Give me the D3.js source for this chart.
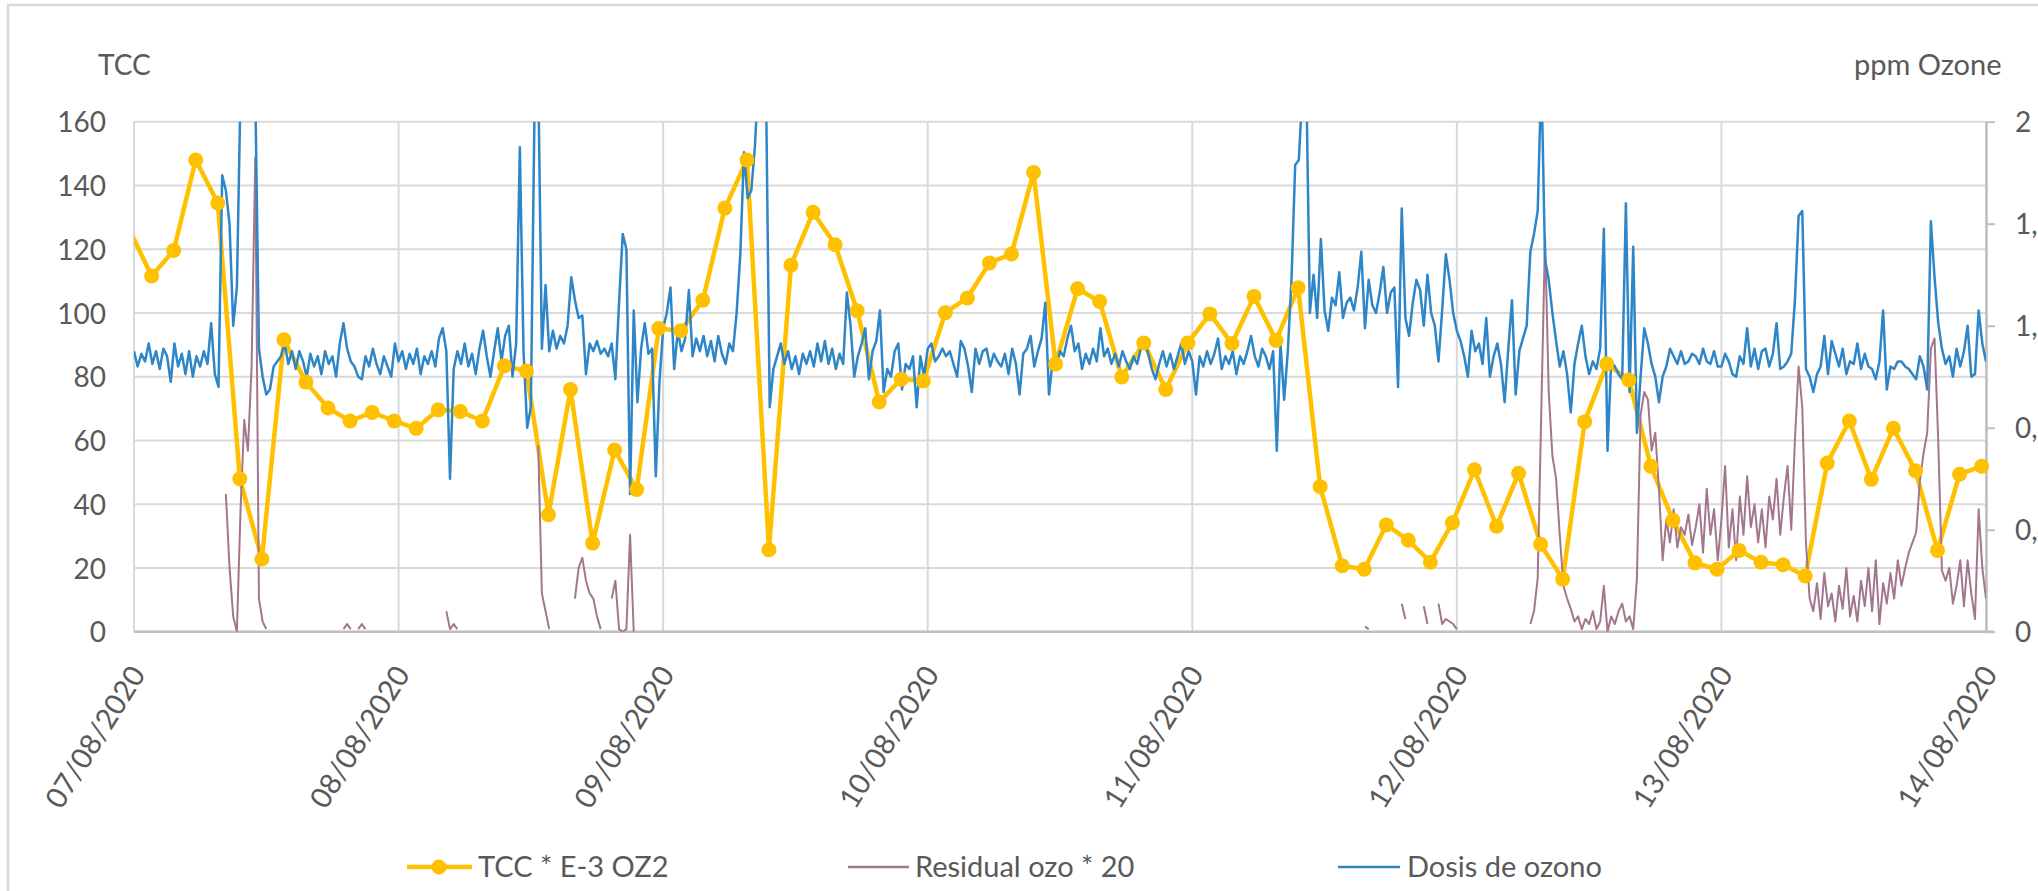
<!DOCTYPE html>
<html><head><meta charset="utf-8">
<script src="https://cdn.jsdelivr.net/npm/d3@7"></script>
<style>html,body{margin:0;padding:0;background:#fff;overflow:hidden}</style>
</head><body>
<svg id="chart" width="2038" height="891"></svg>
<script>
// ---------------- DATA ----------------
const leftTicks = [0, 20, 40, 60, 80, 100, 120, 140, 160];
const rightTicks = [0, 0.4, 0.8, 1.2, 1.6, 2];
const rightTickLabels = ["0", "0,4", "0,8", "1,2", "1,6", "2"];
const dayTicks = ["2020-08-07T00:00","2020-08-08T00:00","2020-08-09T00:00","2020-08-10T00:00",
                  "2020-08-11T00:00","2020-08-12T00:00","2020-08-13T00:00","2020-08-14T00:00"];
const dayLabels = ["07/08/2020","08/08/2020","09/08/2020","10/08/2020",
                   "11/08/2020","12/08/2020","13/08/2020","14/08/2020"];
const seriesNames = ["TCC * E-3 OZ2", "Residual ozo * 20", "Dosis de ozono"];

// TCC * E-3 OZ2 : one sample every 2 h, first sample 06/08 23:36
const tccStart = "2020-08-06T23:36";
const tccStepMinutes = 120;
const tccValues = [126,111.6,119.6,148,134.5,48,22.8,91.6,78.3,70.2,
  66.1,68.8,66.1,63.8,69.6,69.1,66.1,83.4,81.8,36.7,
  76,27.8,57,44.6,95.1,94.4,104,132.9,148,25.7,
  115,131.6,121.4,100.7,72.1,79.2,78.7,100.1,104.7,115.7,
  118.5,144.1,84,107.6,103.6,79.9,90.6,76,90.6,99.7,
  90.4,105.2,91.4,107.9,45.5,20.7,19.6,33.5,28.7,21.8,
  34.2,50.8,33.1,49.7,27.4,16.5,65.9,84,79,51.9,
  35,21.6,19.6,25.5,21.8,21,17.5,52.9,66.1,47.8,
  63.8,50.5,25.5,49.4,51.9];

// Dosis de ozono (ppm), one sample every 20 min, per day
const dosisStepMinutes = 20;
const dosisDay1 = [1.10,1.04,1.09,1.06,1.13,1.05,1.10,1.03,1.11,1.08,
  0.98,1.13,1.04,1.09,1.01,1.10,1.00,1.08,1.04,1.10,
  1.05,1.21,1.01,0.96,1.79,1.73,1.60,1.20,1.35,2.13,
  2.19,2.19,2.19,2.13,1.11,1.00,0.93,0.95,1.04,1.06,
  1.08,1.13,1.05,1.10,1.03,1.10,1.06,1.00,1.09,1.04,
  1.08,1.01,1.10,1.05,1.08,1.00,1.13,1.21,1.11,1.06,
  1.04,1.00,0.99,1.08,1.04,1.11,1.05,1.01,1.08,1.04,
  1.00,1.13];
const dosisDay2 = [1.06,1.10,1.03,1.09,1.05,1.11,1.01,1.08,1.05,1.10,1.04,1.15,1.19,1.10,0.60,
  1.03,1.10,1.05,1.13,1.04,1.09,1.01,1.11,1.18,1.08,1.00,1.10,1.19,1.06,1.16,
  1.20,1.00,1.13,1.90,1.10,0.80,0.88,2.06,2.19,1.11,1.36,1.10,1.18,1.11,1.16,
  1.13,1.20,1.39,1.30,1.23,1.24,1.01,1.13,1.10,1.14,1.09,1.11,1.08,1.13,0.99,
  1.29,1.56,1.50,0.54,1.26,0.90,1.11,1.21,1.09,1.11,0.61,0.98];
const dosisDay3 = [1.19,1.25,1.35,1.03,1.18,1.10,1.15,1.34,1.08,1.15,1.10,1.16,1.08,1.14,1.06,
  1.16,1.09,1.05,1.13,1.10,1.25,1.48,1.88,1.70,1.73,1.91,2.19,2.19,2.13,0.88,
  1.03,1.08,1.13,1.05,1.10,1.03,1.08,1.01,1.09,1.05,1.10,1.04,1.13,1.06,1.14,
  1.05,1.11,1.03,1.09,1.05,1.33,1.20,1.00,1.08,1.13,1.19,0.99,1.10,1.14,1.26,
  0.94,1.03,1.00,1.10,1.13,0.95,1.05,1.03,1.08,0.88,1.08,1.00];
const dosisDay4 = [1.11,1.13,1.06,1.08,1.11,1.08,1.10,1.05,1.00,1.14,1.11,1.04,0.94,1.11,1.05,
  1.10,1.11,1.04,1.09,1.06,1.04,1.09,1.01,1.11,1.05,0.93,1.09,1.11,1.16,1.04,
  1.10,1.15,1.29,0.93,1.06,1.04,1.10,1.08,1.15,1.20,1.10,1.13,1.03,1.09,1.05,
  1.11,1.06,1.19,1.08,1.11,1.05,1.09,1.04,1.10,1.06,1.03,1.08,1.05,1.11,1.14,
  1.09,1.03,0.99,1.05,1.10,1.04,1.09,1.03,1.08,1.13,1.05,1.10];
const dosisDay5 = [1.06,0.93,1.08,1.04,1.10,1.05,1.09,1.15,1.03,1.08,1.05,1.10,1.01,1.08,1.05,
  1.10,1.16,1.08,1.04,1.11,1.08,1.03,1.10,0.71,1.13,0.91,1.10,1.38,1.83,1.85,
  2.13,2.19,1.25,1.40,1.23,1.54,1.26,1.18,1.31,1.28,1.41,1.23,1.29,1.31,1.26,
  1.35,1.49,1.19,1.38,1.28,1.25,1.33,1.43,1.25,1.33,1.35,0.96,1.66,1.23,1.16,
  1.29,1.38,1.34,1.20,1.40,1.25,1.20,1.06,1.26,1.48,1.38,1.25];
const dosisDay6 = [1.18,1.14,1.08,1.00,1.18,1.10,1.13,1.05,1.23,1.00,1.08,1.13,1.05,0.90,1.11,
  1.30,0.93,1.10,1.15,1.20,1.49,1.56,1.65,2.19,1.46,1.38,1.25,1.14,1.04,1.10,
  1.01,0.86,1.05,1.13,1.20,1.08,1.01,1.06,1.03,1.11,1.58,0.71,1.06,1.04,1.01,
  0.99,1.68,0.94,1.51,0.78,1.00,1.19,1.13,1.05,1.00,0.90,1.00,1.04,1.11,1.08,
  1.05,1.10,1.05,1.06,1.09,1.08,1.05,1.11,1.06,1.05,1.10,1.04];
const dosisDay7 = [1.04,1.09,1.06,1.01,1.00,1.08,1.05,1.19,1.04,1.11,1.03,1.10,1.11,1.04,1.09,
  1.21,1.03,1.04,1.06,1.09,1.30,1.63,1.65,1.03,1.00,0.94,1.01,1.04,1.16,1.01,
  1.14,1.09,1.04,1.11,1.01,1.06,1.05,1.13,1.03,1.09,1.04,1.03,0.99,1.06,1.26,
  0.95,1.04,1.03,1.06,1.06,1.04,1.03,1.01,0.99,1.08,1.04,0.95,1.61,1.39,1.21,
  1.11,1.05,1.08,1.00,1.11,1.04,1.10,1.20,1.00,1.01,1.26,1.13,1.06];
const dosisDayStarts = ["2020-08-07T00:00","2020-08-08T00:00","2020-08-09T00:00","2020-08-10T00:00",
                        "2020-08-11T00:00","2020-08-12T00:00","2020-08-13T00:00"];

// Residual ozo * 20 (same axis as the dose), one sample every 20 min, only where recorded
const residualStarts = ["2020-08-07T08:20","2020-08-07T19:00","2020-08-07T20:20","2020-08-08T04:20",
  "2020-08-08T12:40","2020-08-08T16:00","2020-08-08T19:20","2020-08-11T15:40",
  "2020-08-11T19:00","2020-08-11T21:00","2020-08-11T22:20","2020-08-12T06:40"];
const residualValues = [
  [0.54,0.25,0.06,0.00,0.48,0.83,0.71,1.04,1.86,0.13,0.04,0.01],
  [0.01,0.03,0.01],
  [0.01,0.03,0.01],
  [0.08,0.01,0.03,0.01],
  [0.73,0.15,0.08,0.01],
  [0.13,0.25,0.29,0.20,0.15,0.13,0.06,0.01],
  [0.13,0.20,0.01,0.00,0.01,0.38,0.00],
  [0.02,0.01],
  [0.11,0.05],
  [0.10,0.03],
  [0.11,0.03,0.05,0.04,0.03,0.01],
  [0.03,0.08,0.21,0.88,1.55,0.94,0.69,0.60,0.38,0.18,
   0.13,0.09,0.04,0.06,0.01,0.05,0.03,0.08,0.01,0.04,
   0.18,0.00,0.06,0.03,0.08,0.11,0.04,0.06,0.01,0.21,
   0.85,0.94,0.91,0.71,0.78,0.56,0.28,0.44,0.35,0.48,
   0.33,0.41,0.38,0.46,0.34,0.41,0.50,0.31,0.56,0.38,0.48,0.28,
   0.44,0.65,0.33,0.48,0.28,0.53,0.38,0.61,0.41,0.50,0.35,0.48,0.33,0.53,0.44,
   0.60,0.38,0.53,0.65,0.40,0.75,1.04,0.88,0.35,0.13,
   0.08,0.19,0.05,0.23,0.10,0.15,0.04,0.18,0.09,0.25,0.06,0.14,0.04,0.20,
   0.10,0.25,0.08,0.28,0.03,0.19,0.11,0.23,0.13,0.28,0.18,0.25,0.31,0.35,
   0.39,0.59,0.70,0.78,1.11,1.15,0.75,0.24,0.20,0.25,
   0.11,0.18,0.28,0.10,0.28,0.15,0.05,0.48,0.25,0.13]
];

// ---------------- BUILD ----------------
const parse = d3.timeParse("%Y-%m-%dT%H:%M");
function toSeries(start, stepMin, values) {
  const t0 = parse(start);
  return values.map((v, i) => ({ t: d3.timeMinute.offset(t0, i * stepMin), v }));
}
const tcc = toSeries(tccStart, tccStepMinutes, tccValues);
const dosisDays = [dosisDay1, dosisDay2, dosisDay3, dosisDay4, dosisDay5, dosisDay6, dosisDay7];
const dosis = dosisDays.flatMap((arr, i) => toSeries(dosisDayStarts[i], dosisStepMinutes, arr));
const residual = residualStarts.map((s, i) => toSeries(s, dosisStepMinutes, residualValues[i]));

const W = 2038, H = 891;
const plot = { left: 134, right: 1986, top: 121.7, bottom: 631.7 };
const FONT = "Lato, 'Open Sans', sans-serif";
const TXT = "#595959";
const GRID = "#d9d9d9";
const AXIS = "#bfbfbf";
const C_TCC = "#FFC000", C_RES = "#A2768D", C_DOS = "#2E86C8";

const svg = d3.select("#chart");
svg.append("rect").attr("width", W).attr("height", H).attr("fill", "#fff");
// outer chart frame (cut by the picture edges on right/bottom)
svg.append("rect").attr("x", 8).attr("y", 5).attr("width", 2200).attr("height", 1000)
  .attr("fill", "none").attr("stroke", GRID).attr("stroke-width", 2.5);

const x = d3.scaleTime().domain([parse(dayTicks[0]), parse(dayTicks[dayTicks.length - 1])])
  .range([plot.left, plot.right]);
const yL = d3.scaleLinear().domain([0, 160]).range([plot.bottom, plot.top]);
const yR = d3.scaleLinear().domain([0, 2]).range([plot.bottom, plot.top]);

// gridlines
const grid = svg.append("g");
grid.selectAll("line.h").data(leftTicks).join("line")
  .attr("x1", plot.left).attr("x2", plot.right)
  .attr("y1", d => yL(d)).attr("y2", d => yL(d))
  .attr("stroke", GRID).attr("stroke-width", 2);
grid.selectAll("line.v").data(dayTicks.map(parse)).join("line")
  .attr("x1", d => x(d)).attr("x2", d => x(d))
  .attr("y1", plot.top).attr("y2", plot.bottom)
  .attr("stroke", GRID).attr("stroke-width", 2);

// left axis (labels only)
const gL = svg.append("g").attr("transform", `translate(${plot.left},0)`)
  .call(d3.axisLeft(yL).tickValues(leftTicks).tickSize(0).tickPadding(28));
gL.select(".domain").remove();
gL.selectAll("text").attr("fill", TXT).style("font-family", FONT).style("font-size", "28px").attr("dy", "0.36em");

// bottom axis line
svg.append("line").attr("x1", plot.left).attr("x2", plot.right + 8)
  .attr("y1", plot.bottom).attr("y2", plot.bottom).attr("stroke", AXIS).attr("stroke-width", 2.5);

// bottom axis labels (rotated)
const gB = svg.append("g").attr("transform", `translate(0,${plot.bottom})`)
  .call(d3.axisBottom(x).tickValues(dayTicks.map(parse)).tickSize(0)
    .tickFormat((d, i) => dayLabels[i]));
gB.select(".domain").remove();
gB.selectAll("text").attr("fill", TXT).style("font-family", FONT).style("font-size", "29px")
  .attr("x", null).attr("y", null).attr("dy", "0.36em")
  .attr("text-anchor", "end")
  .attr("transform", "translate(3,37) rotate(-58)");

// right axis
const gR = svg.append("g").attr("transform", `translate(${plot.right},0)`)
  .call(d3.axisRight(yR).tickValues(rightTicks).tickSize(9).tickSizeOuter(0).tickPadding(20)
    .tickFormat((d, i) => rightTickLabels[i]));
gR.select(".domain").attr("stroke", AXIS).attr("stroke-width", 2.5);
gR.selectAll(".tick line").attr("stroke", AXIS).attr("stroke-width", 2);
gR.selectAll("text").attr("fill", TXT).style("font-family", FONT).style("font-size", "28px").attr("dy", "0.36em");

// axis titles
svg.append("text").attr("x", 98).attr("y", 75).text("TCC")
  .attr("fill", TXT).style("font-family", FONT).style("font-size", "28px");
svg.append("text").attr("x", 1854).attr("y", 75).text("ppm Ozone")
  .attr("fill", TXT).style("font-family", FONT).style("font-size", "29px");

// clip
svg.append("clipPath").attr("id", "clip").append("rect")
  .attr("x", plot.left).attr("y", plot.top)
  .attr("width", plot.right - plot.left).attr("height", plot.bottom - plot.top);
const series = svg.append("g").attr("clip-path", "url(#clip)");

const lineL = d3.line().defined(d => d.v != null).x(d => x(d.t)).y(d => yL(d.v));
const lineR = d3.line().defined(d => d.v != null).x(d => x(d.t)).y(d => yR(d.v));

// TCC
series.append("path").datum(tcc).attr("d", lineL).attr("fill", "none")
  .attr("stroke", C_TCC).attr("stroke-width", 4.5).attr("stroke-linejoin", "round");
const [xd0, xd1] = x.domain();
svg.append("g").selectAll("circle").data(tcc.filter(d => d.t >= xd0 && d.t <= xd1)).join("circle")
  .attr("cx", d => x(d.t)).attr("cy", d => yL(d.v)).attr("r", 7.5).attr("fill", C_TCC);

// Residual
series.selectAll("path.res").data(residual).join("path").attr("class", "res")
  .attr("d", lineR).attr("fill", "none")
  .attr("stroke", C_RES).attr("stroke-width", 2).attr("stroke-linejoin", "round");

// Dosis
series.append("path").datum(dosis).attr("d", lineR).attr("fill", "none")
  .attr("stroke", C_DOS).attr("stroke-width", 2.5).attr("stroke-linejoin", "round");

// legend
const legY = 867;
const leg = svg.append("g");
leg.append("line").attr("x1", 407).attr("x2", 472).attr("y1", legY).attr("y2", legY)
  .attr("stroke", C_TCC).attr("stroke-width", 4.5);
leg.append("circle").attr("cx", 439).attr("cy", legY).attr("r", 7.5).attr("fill", C_TCC);
leg.append("line").attr("x1", 848).attr("x2", 909).attr("y1", legY).attr("y2", legY)
  .attr("stroke", C_RES).attr("stroke-width", 2.5);
leg.append("line").attr("x1", 1338).attr("x2", 1400).attr("y1", legY).attr("y2", legY)
  .attr("stroke", C_DOS).attr("stroke-width", 2.5);
[[478, 0], [915, 1], [1407, 2]].forEach(([lx, i]) => {
  leg.append("text").attr("x", lx).attr("y", legY + 10).text(seriesNames[i])
    .attr("fill", TXT).style("font-family", FONT).style("font-size", "29px");
});
</script>
</body></html>
